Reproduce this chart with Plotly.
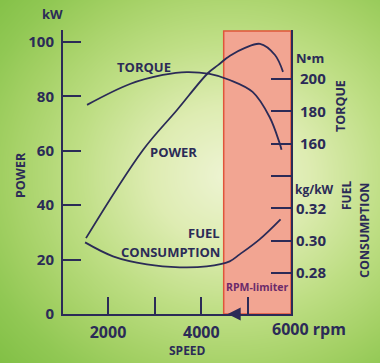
import numpy as np
import plotly.graph_objects as go

# ---- data ----
power_rpm = [1529, 2750, 3479, 4143, 4357, 4614, 4936, 5257, 5578, 5750]
power_kw = [27.9, 60.3, 75.0, 88.6, 91.5, 94.9, 97.8, 99.3, 95.2, 89.0]

torque_rpm = [1551, 2470, 3175, 3688, 4179, 4607, 5098, 5462, 5675, 5718]
torque_nm = [184.0, 196.9, 202.5, 204.3, 203.1, 199.4, 192.0, 176.5, 160.5, 156.2]

fuel_rpm = [1509, 2107, 2833, 3538, 4115, 4607, 4821, 5248, 5697]
fuel_kgkw = [0.2989, 0.2903, 0.2853, 0.2835, 0.2841, 0.2872, 0.2915, 0.3008, 0.3132]

x_tickvals = [2000, 3000, 4000, 5000]
x_ticktext = ["2000", "", "4000", ""]
kw_tickvals = [0, 20, 40, 60, 80, 100]
torque_tickvals = [140, 160, 180, 200]
torque_ticktext = ["", "160", "180", "200"]
fuel_tickvals = [0.28, 0.30, 0.32]
fuel_ticktext = ["0.28", "0.30", "0.32"]

RPM_LIMIT = 4479
RPM_RANGE = [1036, 5921]
KW_RANGE = [0, 104.4]
TORQUE_RANGE = [54.7, 230.3]
FUEL_RANGE = [0.2546, 0.4303]

W, H = 380, 363
NAVY = "#2b2b57"
FONT = "Open Sans"

fig = go.Figure()

# background radial gradient (decorative)
gx = np.linspace(0, W, 40)
gy = np.linspace(0, H, 40)
GX, GY = np.meshgrid(gx, gy)
gz = np.sqrt(((GX - 230) / 260) ** 2 + ((GY - 175) / 230) ** 2)
fig.add_trace(go.Heatmap(
    x=gx, y=gy, z=gz, zmin=0, zmax=1.2, zsmooth="best", showscale=False,
    hoverinfo="skip", xaxis="x", yaxis="y",
    colorscale=[[0, "rgb(238,244,212)"], [0.25, "rgb(222,236,178)"],
                [0.5, "rgb(190,222,132)"], [0.72, "rgb(163,208,100)"],
                [0.85, "rgb(145,200,84)"], [1, "rgb(130,192,70)"]],
))

# RPM limiter region
fig.add_trace(go.Scatter(
    x=[RPM_LIMIT, RPM_RANGE[1], RPM_RANGE[1], RPM_LIMIT, RPM_LIMIT],
    y=[0, 0, 104.0, 104.0, 0], fill="toself", fillcolor="#f2a592",
    line=dict(color="#e0553a", width=1.5), mode="lines",
    xaxis="x2", yaxis="y2", hoverinfo="skip", showlegend=False,
))

line = dict(color=NAVY, width=1.8, shape="spline", smoothing=1.0)
fig.add_trace(go.Scatter(x=power_rpm, y=power_kw, mode="lines", line=line,
                         xaxis="x2", yaxis="y2", showlegend=False))
fig.add_trace(go.Scatter(x=torque_rpm, y=torque_nm, mode="lines", line=line,
                         xaxis="x2", yaxis="y3", showlegend=False))
fig.add_trace(go.Scatter(x=fuel_rpm, y=fuel_kgkw, mode="lines", line=line,
                         xaxis="x2", yaxis="y4", showlegend=False))

tickfont = dict(family=FONT, size=15, color=NAVY, weight="bold")

x0p, x1p = 63 / W, 291 / W
y0p, y1p = 1 - 314 / H, 1 - 30 / H

fig.update_layout(
    width=W, height=H, autosize=False, margin=dict(l=0, r=0, t=0, b=0, pad=0),
    paper_bgcolor="#9ccc62", plot_bgcolor="rgba(0,0,0,0)",
    showlegend=False,
    xaxis=dict(domain=[0, 1], range=[0, W], visible=False, fixedrange=True,
               automargin=False),
    yaxis=dict(domain=[0, 1], range=[H, 0], visible=False, fixedrange=True,
               automargin=False),
    xaxis2=dict(domain=[x0p, x1p], range=RPM_RANGE, anchor="y2", automargin=False,
                showgrid=False, zeroline=False, showline=True, linecolor=NAVY, linewidth=2,
                ticks="inside", ticklen=17, tickwidth=2, tickcolor=NAVY,
                tickvals=x_tickvals, ticktext=x_ticktext,
                tickfont=dict(family=FONT, size=16, color=NAVY, weight="bold"),
                ticklabelstandoff=3),
    yaxis2=dict(domain=[y0p, y1p], range=KW_RANGE, anchor="x2", automargin=False,
                showgrid=False, zeroline=False, showline=True, linecolor=NAVY, linewidth=2,
                ticks="inside", ticklen=18, tickwidth=2, tickcolor=NAVY,
                tickvals=kw_tickvals, tickfont=tickfont, ticklabelstandoff=4),
    yaxis3=dict(range=TORQUE_RANGE, overlaying="y2", anchor="x2", side="right",
                automargin=False,
                showgrid=False, zeroline=False, showline=True, linecolor=NAVY, linewidth=2,
                ticks="inside", ticklen=20, tickwidth=2, tickcolor=NAVY,
                tickvals=torque_tickvals, ticktext=torque_ticktext, tickfont=tickfont,
                ticklabelstandoff=4),
    yaxis4=dict(range=FUEL_RANGE, overlaying="y2", anchor="x2", side="right",
                automargin=False,
                showgrid=False, zeroline=False, showline=False,
                ticks="inside", ticklen=20, tickwidth=2, tickcolor=NAVY,
                tickvals=fuel_tickvals, ticktext=fuel_ticktext, tickfont=tickfont,
                ticklabelstandoff=4),
)


def ann(text, px, py, size=12.5, angle=0, xanchor="center", color=NAVY):
    fig.add_annotation(text=text, x=px / W, y=1 - py / H, xref="paper", yref="paper",
                       showarrow=False, textangle=angle, xanchor=xanchor, yanchor="middle",
                       borderpad=0,
                       font=dict(family=FONT, size=size, color=color, weight="bold"))


ann("kW", 52, 14, 13)
ann("POWER", 20, 175, 12.5, -90)
ann("SPEED", 187, 350, 12)
ann("6000 rpm", 309, 329, 16)
ann("N•m", 310, 58, 13)
ann("TORQUE", 340, 106, 12.5, -90)
ann("kg/kW", 314, 189, 12)
ann("FUEL", 346, 196, 12, -90)
ann("CONSUMPTION", 364, 230, 12.5, -90)
ann("TORQUE", 144, 67, 13)
ann("POWER", 173, 152, 13)
ann("FUEL", 221, 233, 13, xanchor="right")
ann("CONSUMPTION", 221, 252, 13, xanchor="right")
ann("RPM-limiter", 257, 287, 10.5, color="#6b2a6a")

fig.add_annotation(x=4564, y=0, xref="x2", yref="y2", ax=14, ay=0, text="",
                   showarrow=True, arrowhead=2, arrowsize=1.3, arrowwidth=2,
                   arrowcolor=NAVY)

fig.write_html("out.html",
               config={"displayModeBar": False, "responsive": False},
               post_script="document.body.style.margin='0';document.body.style.overflow='hidden';")
